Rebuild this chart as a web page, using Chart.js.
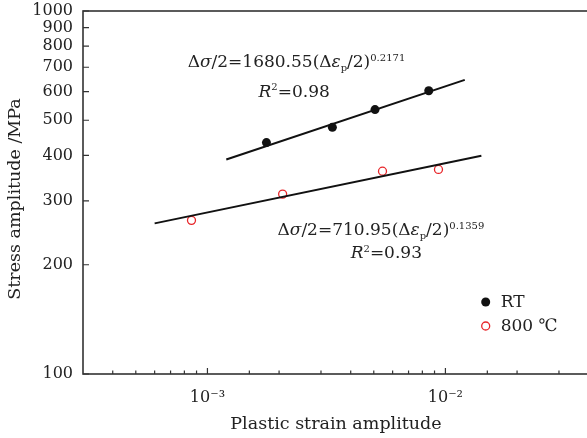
<!DOCTYPE html>
<html>
<head>
<meta charset="utf-8">
<script src="https://cdn.jsdelivr.net/npm/chart.js@4.4.1/dist/chart.umd.min.js"></script>
<style>
  html, body { margin: 0; padding: 0; background: #fff; overflow: hidden; }
  canvas { display: block; }
</style>
</head>
<body>
<canvas id="chart" width="594" height="438"></canvas>
<script>
// RT test points
const rtStrain = [1.77e-3, 3.35e-3, 5.06e-3, 8.51e-3];
const rtStress = [434, 478, 535, 603];
// 800 C test points
const hotStrain = [8.57e-4, 2.07e-3, 5.44e-3, 9.35e-3];
const hotStress = [265, 313, 362, 366];
// fitted lines, ends as drawn
const rtFitStrain = [1.2e-3, 1.206e-2];
const rtFitStress = [390, 646];
const hotFitStrain = [6.0e-4, 1.416e-2];
const hotFitStress = [260, 399];
// axis
const xRange = [3e-4, 4e-2];
const yRange = [100, 1000];
const yTicks = [100, 200, 300, 400, 500, 600, 700, 800, 900, 1000];
const xTickLabels = { '0.001': '10⁻³', '0.01': '10⁻²' };
const seriesNames = ['RT', '800 ℃'];

const SERIF = '"DejaVu Serif", "Liberation Serif", serif';
const INK = '#222';
const RED = '#e8262a';

const pts = (xs, ys) => xs.map((x, i) => ({ x: x, y: ys[i] }));

// fit equations, anchored in data coordinates (left, baseline)
const notes = [
  { x: 8.26e-4, y: 700, parts: [
    { t: 'Δ' }, { t: 'σ', it: true }, { t: '/2=1680.55(Δ' }, { t: 'ε', it: true },
    { t: 'p', sub: true }, { t: '/2)' }, { t: '0.2171', sup: true }] },
  { x: 1.64e-3, y: 580, parts: [{ t: 'R', it: true }, { t: '2', sup: true }, { t: '=0.98' }] },
  { x: 1.97e-3, y: 241.5, parts: [
    { t: 'Δ' }, { t: 'σ', it: true }, { t: '/2=710.95(Δ' }, { t: 'ε', it: true },
    { t: 'p', sub: true }, { t: '/2)' }, { t: '0.1359', sup: true }] },
  { x: 4.0e-3, y: 208.7, parts: [{ t: 'R', it: true }, { t: '2', sup: true }, { t: '=0.93' }] }
];

function richText(ctx, parts, x, y, size) {
  let cx = x;
  for (const p of parts) {
    const small = p.sub || p.sup;
    const fs = small ? Math.round(size * 0.6) : size;
    ctx.font = (p.it ? 'italic ' : '') + fs + 'px ' + SERIF;
    const dy = p.sub ? size * 0.22 : p.sup ? -size * 0.38 : 0;
    ctx.fillText(p.t, cx, y + dy);
    cx += ctx.measureText(p.t).width;
  }
}

const isMajor = v => Math.abs(Math.log10(v) - Math.round(Math.log10(v))) < 1e-6;

const decor = {
  id: 'decor',
  afterDatasetsDraw(chart) {
    const { ctx, chartArea: a, scales } = chart;
    const xs = scales.x, ys = scales.y;
    ctx.save();
    ctx.strokeStyle = '#333';
    ctx.lineWidth = 1.6;
    ctx.strokeRect(a.left, a.top, a.right - a.left, a.bottom - a.top);
    // inward ticks
    ctx.lineWidth = 1.2;
    ctx.beginPath();
    xs.ticks.forEach(t => {
      const px = xs.getPixelForValue(t.value);
      if (px <= a.left + 1 || px >= a.right - 1) return;
      const len = isMajor(t.value) ? 6 : 3.5;
      ctx.moveTo(px, a.bottom);
      ctx.lineTo(px, a.bottom - len);
    });
    ys.ticks.forEach(t => {
      const py = ys.getPixelForValue(t.value);
      ctx.moveTo(a.left, py);
      ctx.lineTo(a.left + 6, py);
    });
    ctx.stroke();

    // fit equations
    ctx.fillStyle = INK;
    ctx.textBaseline = 'alphabetic';
    ctx.textAlign = 'left';
    notes.forEach(n => richText(ctx, n.parts, xs.getPixelForValue(n.x), ys.getPixelForValue(n.y), 17));

    // legend
    const lx = a.right - 103;
    const rows = [a.top + 291, a.top + 315];
    ctx.beginPath();
    ctx.arc(lx, rows[0], 4.5, 0, Math.PI * 2);
    ctx.fillStyle = '#111';
    ctx.fill();
    ctx.beginPath();
    ctx.arc(lx, rows[1], 4, 0, Math.PI * 2);
    ctx.fillStyle = '#fff';
    ctx.fill();
    ctx.strokeStyle = RED;
    ctx.lineWidth = 1.3;
    ctx.stroke();
    ctx.fillStyle = INK;
    ctx.font = '17px ' + SERIF;
    ctx.textBaseline = 'middle';
    seriesNames.forEach((s, i) => ctx.fillText(s, lx + 15, rows[i] + 1));

    // axis titles
    ctx.textAlign = 'center';
    ctx.textBaseline = 'alphabetic';
    ctx.font = '17.5px ' + SERIF;
    ctx.fillText('Plastic strain amplitude', 336, 429);
    ctx.save();
    ctx.translate(20, 199);
    ctx.rotate(-Math.PI / 2);
    ctx.fillText('Stress amplitude /MPa', 0, 0);
    ctx.restore();
    ctx.restore();
  }
};

new Chart(document.getElementById('chart'), {
  type: 'scatter',
  data: {
    datasets: [
      { label: 'RT fit', data: pts(rtFitStrain, rtFitStress), showLine: true,
        borderColor: '#111', borderWidth: 2, pointRadius: 0 },
      { label: '800 fit', data: pts(hotFitStrain, hotFitStress), showLine: true,
        borderColor: '#111', borderWidth: 2, pointRadius: 0 },
      { label: seriesNames[0], data: pts(rtStrain, rtStress),
        pointRadius: 4.5, backgroundColor: '#111', borderColor: '#111', borderWidth: 0 },
      { label: seriesNames[1], data: pts(hotStrain, hotStress),
        pointRadius: 4, backgroundColor: '#fff', borderColor: RED, borderWidth: 1.3 }
    ]
  },
  options: {
    responsive: false,
    animation: false,
    layout: { padding: { top: 11, right: 1, left: 0, bottom: 0 } },
    plugins: { legend: { display: false }, tooltip: { enabled: false } },
    scales: {
      x: {
        type: 'logarithmic', min: xRange[0], max: xRange[1],
        grid: { display: false, drawTicks: false }, border: { display: false },
        afterFit: s => { s.height = 64; s.paddingLeft = 0; s.paddingRight = 0; },
        ticks: {
          autoSkip: false, maxRotation: 0, padding: 14, color: INK,
          font: { family: SERIF, size: 16 },
          callback: v => xTickLabels[String(v)] || ''
        }
      },
      y: {
        type: 'logarithmic', min: yRange[0], max: yRange[1],
        grid: { display: false, drawTicks: false }, border: { display: false },
        afterBuildTicks: s => { s.ticks = yTicks.map(v => ({ value: v })); },
        afterFit: s => { s.width = 83; s.paddingTop = 0; s.paddingBottom = 0; },
        ticks: {
          autoSkip: false, padding: 10, color: INK,
          font: { family: SERIF, size: 16 },
          callback: v => String(v)
        }
      }
    }
  },
  plugins: [decor]
});
</script>
</body>
</html>
